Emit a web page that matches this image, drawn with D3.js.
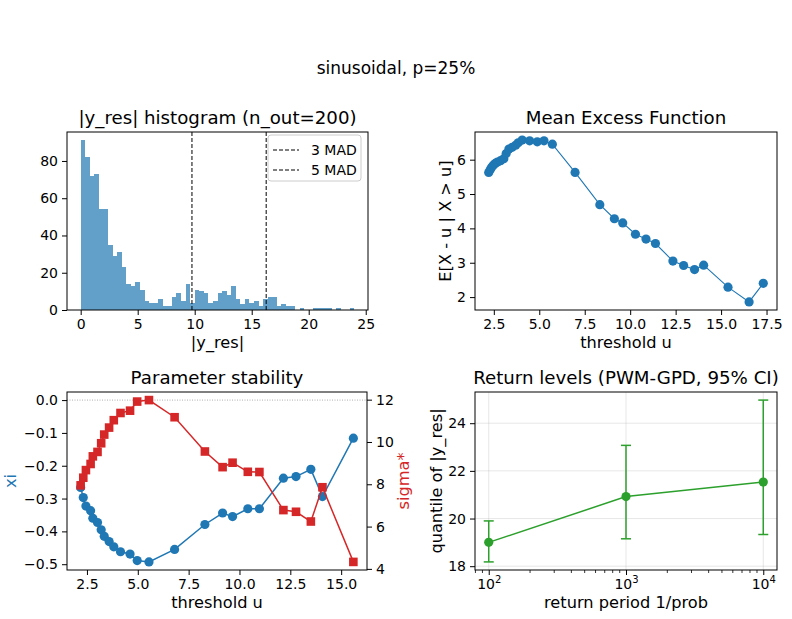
<!DOCTYPE html>
<html>
<head>
<meta charset="utf-8">
<script src="https://cdn.jsdelivr.net/npm/d3@7"></script>
<style>
  body { margin: 0; background: #fff; }
  svg { font-family: "DejaVu Sans", sans-serif; }
</style>
</head>
<body>
<svg id="chart"></svg>
<script>
// ---- data ----
const histCounts = [91,82,72,73,54,54,35,29,31,23,
                    14,13,15,11,5,4,4,6,2,2,
                    7,9,5,14,4,11,10,9,4,5,
                    9,10,8,13,6,3,6,4,5,2,
                    6,7,7,2,3,2,2,0,1,0,
                    0,1,1,1,1,0,1,0,0,1];
const binStart = 0, binWidth = 0.4;
const madLines = [{label: "3 MAD", v: 9.76}, {label: "5 MAD", v: 16.27}];

const mefU = [2.22,2.30,2.38,2.47,2.58,2.70,2.87,3.05,3.18,3.33,3.51,3.70,3.84,4.06,
              4.47,4.89,5.26,5.72,6.97,8.33,9.13,9.59,10.29,10.87,11.39,12.35,12.94,
              13.54,14.04,15.38,16.54,17.32];
const mefE = [5.63,5.71,5.78,5.84,5.89,5.93,5.97,6.03,6.18,6.31,6.36,6.42,6.49,6.57,
              6.55,6.52,6.55,6.45,5.63,4.69,4.28,4.16,3.83,3.69,3.56,3.05,2.92,
              2.80,2.93,2.29,1.86,2.40];

const psU   = [2.19,2.32,2.45,2.68,2.79,3.02,3.20,3.35,3.59,3.82,4.15,4.62,4.97,5.55,
               6.81,8.30,9.17,9.66,10.41,10.98,12.16,12.78,13.51,14.08,15.60];
const psXi  = [-0.266,-0.297,-0.323,-0.337,-0.360,-0.373,-0.395,-0.415,-0.431,-0.447,
               -0.462,-0.469,-0.489,-0.493,-0.455,-0.379,-0.344,-0.355,-0.331,-0.331,
               -0.238,-0.233,-0.211,-0.294,-0.116];
const psSig = [7.95,8.31,8.67,8.96,9.32,9.53,9.94,10.35,10.68,11.03,11.37,11.48,11.91,
               11.98,11.17,9.55,8.81,9.02,8.59,8.58,6.78,6.70,6.24,7.86,4.33];

const rlT  = [100, 1000, 10000];
const rlQ  = [19.00, 20.92, 21.53];
const rlLo = [18.18, 19.15, 19.33];
const rlHi = [19.90, 23.07, 24.97];

const histXTicks = [0,5,10,15,20,25];
const histYTicks = [0,20,40,60,80];
const mefXTicks = [2.5,5,7.5,10,12.5,15,17.5];
const mefYTicks = [2,3,4,5,6];
const psXTicks = [2.5,5,7.5,10,12.5,15];
const psXiTicks = [0,-0.1,-0.2,-0.3,-0.4,-0.5];
const psSigTicks = [4,6,8,10,12];
const rlXTicks = [100,1000,10000];
const rlYTicks = [18,20,22,24];

// ---- layout ----
const width = 792, height = 619;
const blue = "#1f77b4", red = "#d62728", green = "#2ca02c";
const tickFont = 14, labelFont = 16.2, titleFont = 18.2;

const svg = d3.select("#chart")
    .attr("width", width)
    .attr("height", height)
    .attr("viewBox", [0, 0, width, height]);

svg.append("text")
    .attr("x", 396).attr("y", 74)
    .attr("text-anchor", "middle")
    .attr("font-size", 17)
    .text("sinusoidal, p=25%");

// matplotlib style 5% margin around the data
function pad(lo, hi) {
    const m = (hi - lo) * 0.05;
    return [lo - m, hi + m];
}

function panel(box) {
    const g = svg.append("g");
    g.box = box;
    return g;
}

function frame(g) {
    const b = g.box;
    g.append("rect")
        .attr("x", b.x0).attr("y", b.y0)
        .attr("width", b.x1 - b.x0).attr("height", b.y1 - b.y0)
        .attr("fill", "none").attr("stroke", "#000").attr("stroke-width", 1);
}

function styleAxis(sel) {
    sel.select(".domain").remove();
    sel.selectAll(".tick line").attr("stroke", "#000").attr("stroke-width", 1);
    sel.selectAll(".tick text").attr("font-size", tickFont).attr("fill", "#000")
        .attr("font-family", "DejaVu Sans");
}

function title(g, txt) {
    const b = g.box;
    g.append("text")
        .attr("x", (b.x0 + b.x1) / 2).attr("y", b.y0 - 8)
        .attr("text-anchor", "middle")
        .attr("font-size", titleFont)
        .text(txt);
}

function xlabel(g, txt) {
    const b = g.box;
    g.append("text")
        .attr("x", (b.x0 + b.x1) / 2).attr("y", b.y1 + 38)
        .attr("text-anchor", "middle")
        .attr("font-size", labelFont)
        .text(txt);
}

function ylabel(g, txt, x, color) {
    const b = g.box;
    g.append("text")
        .attr("transform", `translate(${x},${(b.y0 + b.y1) / 2}) rotate(-90)`)
        .attr("text-anchor", "middle")
        .attr("font-size", labelFont)
        .attr("fill", color || "#000")
        .text(txt);
}

// ---- 1: histogram ----
const h = panel({x0: 67, x1: 368, y0: 132, y1: 310});
const hx = d3.scaleLinear().domain(pad(binStart, binStart + binWidth * histCounts.length))
    .range([h.box.x0, h.box.x1]);
const hy = d3.scaleLinear().domain([0, d3.max(histCounts) * 1.05])
    .range([h.box.y1, h.box.y0]);

h.append("g").selectAll("rect")
    .data(histCounts)
    .join("rect")
    .attr("x", (d, i) => hx(binStart + i * binWidth))
    .attr("width", (d, i) => hx(binStart + (i + 1) * binWidth) - hx(binStart + i * binWidth))
    .attr("y", d => hy(d))
    .attr("height", d => hy(0) - hy(d))
    .attr("fill", blue)
    .attr("fill-opacity", 0.7)
    .attr("shape-rendering", "crispEdges");

h.append("g").selectAll("line")
    .data(madLines)
    .join("line")
    .attr("x1", d => hx(d.v)).attr("x2", d => hx(d.v))
    .attr("y1", h.box.y0).attr("y2", h.box.y1)
    .attr("stroke", "#000").attr("stroke-width", 1)
    .attr("stroke-dasharray", "4,2");

h.append("g").attr("transform", `translate(0,${h.box.y1})`)
    .call(d3.axisBottom(hx).tickValues(histXTicks).tickFormat(d3.format("d")).tickSize(5).tickPadding(4))
    .call(styleAxis);
h.append("g").attr("transform", `translate(${h.box.x0},0)`)
    .call(d3.axisLeft(hy).tickValues(histYTicks).tickFormat(d3.format("d")).tickSize(5).tickPadding(4))
    .call(styleAxis);
frame(h);
title(h, "|y_res| histogram (n_out=200)");
xlabel(h, "|y_res|");

// legend
const leg = h.append("g").attr("transform", `translate(268,135)`);
leg.append("rect")
    .attr("width", 93).attr("height", 46).attr("rx", 3)
    .attr("fill", "#fff").attr("fill-opacity", 0.8)
    .attr("stroke", "#ccc").attr("stroke-width", 1);
madLines.forEach((d, i) => {
    const yy = 15 + i * 20;
    leg.append("line")
        .attr("x1", 5).attr("x2", 31).attr("y1", yy).attr("y2", yy)
        .attr("stroke", "#000").attr("stroke-width", 1)
        .attr("stroke-dasharray", "4,2");
    leg.append("text")
        .attr("x", 43).attr("y", yy + 5)
        .attr("font-size", tickFont)
        .text(d.label);
});

// ---- 2: mean excess ----
const m = panel({x0: 475, x1: 777, y0: 132, y1: 310});
const mx = d3.scaleLinear().domain(pad(d3.min(mefU), d3.max(mefU))).range([m.box.x0, m.box.x1]);
const my = d3.scaleLinear().domain(pad(d3.min(mefE), d3.max(mefE))).range([m.box.y1, m.box.y0]);
const mefPts = mefU.map((u, i) => ({u, e: mefE[i]}));

m.append("path")
    .datum(mefPts)
    .attr("fill", "none").attr("stroke", blue).attr("stroke-width", 1.1)
    .attr("d", d3.line().x(d => mx(d.u)).y(d => my(d.e)));
m.append("g").selectAll("circle")
    .data(mefPts)
    .join("circle")
    .attr("cx", d => mx(d.u)).attr("cy", d => my(d.e))
    .attr("r", 4.6).attr("fill", blue);

m.append("g").attr("transform", `translate(0,${m.box.y1})`)
    .call(d3.axisBottom(mx).tickValues(mefXTicks).tickFormat(d3.format(".1f")).tickSize(5).tickPadding(4))
    .call(styleAxis);
m.append("g").attr("transform", `translate(${m.box.x0},0)`)
    .call(d3.axisLeft(my).tickValues(mefYTicks).tickFormat(d3.format("d")).tickSize(5).tickPadding(4))
    .call(styleAxis);
frame(m);
title(m, "Mean Excess Function");
xlabel(m, "threshold u");
ylabel(m, "E[X - u | X > u]", 451);

// ---- 3: parameter stability ----
const p = panel({x0: 67, x1: 367, y0: 392, y1: 570});
const px = d3.scaleLinear().domain(pad(d3.min(psU), d3.max(psU))).range([p.box.x0, p.box.x1]);
const pyXi = d3.scaleLinear().domain(pad(d3.min(psXi), 0)).range([p.box.y1, p.box.y0]);
const pySig = d3.scaleLinear().domain(pad(d3.min(psSig), d3.max(psSig))).range([p.box.y1, p.box.y0]);
const psPts = psU.map((u, i) => ({u, xi: psXi[i], s: psSig[i]}));

p.append("line")
    .attr("x1", p.box.x0).attr("x2", p.box.x1)
    .attr("y1", pyXi(0)).attr("y2", pyXi(0))
    .attr("stroke", "#999").attr("stroke-width", 0.8)
    .attr("stroke-dasharray", "1,1.5");

p.append("path")
    .datum(psPts)
    .attr("fill", "none").attr("stroke", blue).attr("stroke-width", 1.5)
    .attr("d", d3.line().x(d => px(d.u)).y(d => pyXi(d.xi)));
p.append("g").selectAll("circle")
    .data(psPts)
    .join("circle")
    .attr("cx", d => px(d.u)).attr("cy", d => pyXi(d.xi))
    .attr("r", 4.6).attr("fill", blue);

p.append("path")
    .datum(psPts)
    .attr("fill", "none").attr("stroke", red).attr("stroke-width", 1.5)
    .attr("d", d3.line().x(d => px(d.u)).y(d => pySig(d.s)));
p.append("g").selectAll("rect")
    .data(psPts)
    .join("rect")
    .attr("x", d => px(d.u) - 4.3).attr("y", d => pySig(d.s) - 4.3)
    .attr("width", 8.6).attr("height", 8.6).attr("fill", red);

p.append("g").attr("transform", `translate(0,${p.box.y1})`)
    .call(d3.axisBottom(px).tickValues(psXTicks).tickFormat(d3.format(".1f")).tickSize(5).tickPadding(4))
    .call(styleAxis);
p.append("g").attr("transform", `translate(${p.box.x0},0)`)
    .call(d3.axisLeft(pyXi).tickValues(psXiTicks).tickFormat(d3.format(".1f")).tickSize(5).tickPadding(4))
    .call(styleAxis);
p.append("g").attr("transform", `translate(${p.box.x1},0)`)
    .call(d3.axisRight(pySig).tickValues(psSigTicks).tickFormat(d3.format("d")).tickSize(5).tickPadding(4))
    .call(styleAxis);
frame(p);
title(p, "Parameter stability");
xlabel(p, "threshold u");
ylabel(p, "xi", 16, blue);
ylabel(p, "sigma*", 409, red);

// ---- 4: return levels ----
const r = panel({x0: 475, x1: 777, y0: 392, y1: 570});
const lt = rlT.map(t => Math.log10(t));
const rxl = pad(d3.min(lt), d3.max(lt));
const rx = d3.scaleLog().domain([10 ** rxl[0], 10 ** rxl[1]]).range([r.box.x0, r.box.x1]);
const ry = d3.scaleLinear().domain(pad(d3.min(rlLo), d3.max(rlHi))).range([r.box.y1, r.box.y0]);
const rlPts = rlT.map((t, i) => ({t, q: rlQ[i], lo: rlLo[i], hi: rlHi[i]}));

// light grid
r.append("g").selectAll("line.gx")
    .data(rlXTicks).join("line")
    .attr("x1", d => rx(d)).attr("x2", d => rx(d))
    .attr("y1", r.box.y0).attr("y2", r.box.y1)
    .attr("stroke", "#b0b0b0").attr("stroke-opacity", 0.3).attr("stroke-width", 1);
r.append("g").selectAll("line.gy")
    .data(rlYTicks).join("line")
    .attr("x1", r.box.x0).attr("x2", r.box.x1)
    .attr("y1", d => ry(d)).attr("y2", d => ry(d))
    .attr("stroke", "#b0b0b0").attr("stroke-opacity", 0.3).attr("stroke-width", 1);

const eb = r.append("g").selectAll("g")
    .data(rlPts).join("g")
    .attr("stroke", green).attr("stroke-width", 1.5);
eb.append("line")
    .attr("x1", d => rx(d.t)).attr("x2", d => rx(d.t))
    .attr("y1", d => ry(d.lo)).attr("y2", d => ry(d.hi));
eb.append("line")
    .attr("x1", d => rx(d.t) - 5).attr("x2", d => rx(d.t) + 5)
    .attr("y1", d => ry(d.lo)).attr("y2", d => ry(d.lo));
eb.append("line")
    .attr("x1", d => rx(d.t) - 5).attr("x2", d => rx(d.t) + 5)
    .attr("y1", d => ry(d.hi)).attr("y2", d => ry(d.hi));

r.append("path")
    .datum(rlPts)
    .attr("fill", "none").attr("stroke", green).attr("stroke-width", 1.5)
    .attr("d", d3.line().x(d => rx(d.t)).y(d => ry(d.q)));
r.append("g").selectAll("circle")
    .data(rlPts).join("circle")
    .attr("cx", d => rx(d.t)).attr("cy", d => ry(d.q))
    .attr("r", 4.6).attr("fill", green);

// minor log ticks
const minor = [];
[10, 100, 1000].forEach(dec => { for (let k = 2; k <= 9; k++) minor.push(dec * k); });
const [dLo, dHi] = rx.domain();
r.append("g").selectAll("line")
    .data(minor.filter(v => v > dLo && v < dHi))
    .join("line")
    .attr("x1", d => rx(d)).attr("x2", d => rx(d))
    .attr("y1", r.box.y1).attr("y2", r.box.y1 + 3)
    .attr("stroke", "#000").attr("stroke-width", 0.8);

const rxAxis = r.append("g").attr("transform", `translate(0,${r.box.y1})`)
    .call(d3.axisBottom(rx).tickValues(rlXTicks).tickFormat("").tickSize(5).tickPadding(4))
    .call(styleAxis);
rxAxis.selectAll(".tick").each(function(d) {
    const t = d3.select(this).select("text").text(null);
    t.append("tspan").text("10");
    t.append("tspan").attr("dy", -6).attr("font-size", 10).text(Math.round(Math.log10(d)));
});
r.append("g").attr("transform", `translate(${r.box.x0},0)`)
    .call(d3.axisLeft(ry).tickValues(rlYTicks).tickFormat(d3.format("d")).tickSize(5).tickPadding(4))
    .call(styleAxis);
frame(r);
title(r, "Return levels (PWM-GPD, 95% CI)");
xlabel(r, "return period 1/prob");
ylabel(r, "quantile of |y_res|", 442);
</script>
</body>
</html>
